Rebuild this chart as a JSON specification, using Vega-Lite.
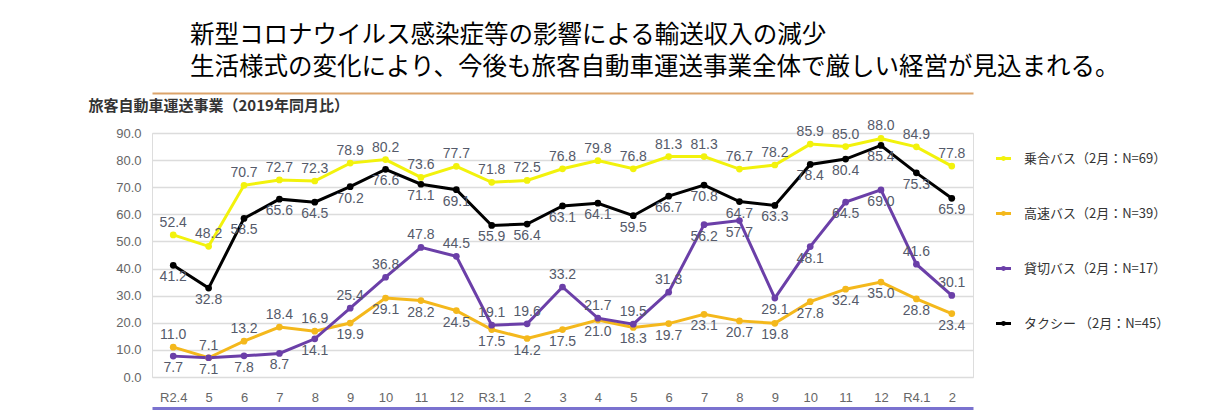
{
  "$schema": "https://vega.github.io/schema/vega-lite/v6.json",
  "width": 821,
  "height": 244,
  "autosize": {"type": "none"},
  "padding": {"left": 152, "top": 133, "right": 257, "bottom": 34},
  "background": "white",
  "title": {
    "text": "新型コロナウイルス感染症等の影響による輸送収入の減少",
    "subtitle": "生活様式の変化により、今後も旅客自動車運送事業全体で厳しい経営が見込まれる。",
    "anchor": "start",
    "frame": "group",
    "orient": "top",
    "dx": 38,
    "dy": 1,
    "offset": 14,
    "font": "Noto Sans CJK JP",
    "fontSize": 24.5,
    "fontWeight": "normal",
    "color": "#000000",
    "subtitleFont": "Noto Sans CJK JP",
    "subtitleFontSize": 24.5,
    "subtitleColor": "#000000",
    "subtitlePadding": 7
  },
  "data": {
    "values": [
      {"month": "2020-04", "series": "乗合バス", "value": 52.4},
      {"month": "2020-05", "series": "乗合バス", "value": 48.2},
      {"month": "2020-06", "series": "乗合バス", "value": 70.7},
      {"month": "2020-07", "series": "乗合バス", "value": 72.7},
      {"month": "2020-08", "series": "乗合バス", "value": 72.3},
      {"month": "2020-09", "series": "乗合バス", "value": 78.9},
      {"month": "2020-10", "series": "乗合バス", "value": 80.2},
      {"month": "2020-11", "series": "乗合バス", "value": 73.6},
      {"month": "2020-12", "series": "乗合バス", "value": 77.7},
      {"month": "2021-01", "series": "乗合バス", "value": 71.8},
      {"month": "2021-02", "series": "乗合バス", "value": 72.5},
      {"month": "2021-03", "series": "乗合バス", "value": 76.8},
      {"month": "2021-04", "series": "乗合バス", "value": 79.8},
      {"month": "2021-05", "series": "乗合バス", "value": 76.8},
      {"month": "2021-06", "series": "乗合バス", "value": 81.3},
      {"month": "2021-07", "series": "乗合バス", "value": 81.3},
      {"month": "2021-08", "series": "乗合バス", "value": 76.7},
      {"month": "2021-09", "series": "乗合バス", "value": 78.2},
      {"month": "2021-10", "series": "乗合バス", "value": 85.9},
      {"month": "2021-11", "series": "乗合バス", "value": 85.0},
      {"month": "2021-12", "series": "乗合バス", "value": 88.0},
      {"month": "2022-01", "series": "乗合バス", "value": 84.9},
      {"month": "2022-02", "series": "乗合バス", "value": 77.8},
      {"month": "2020-04", "series": "高速バス", "value": 11.0},
      {"month": "2020-05", "series": "高速バス", "value": 7.1},
      {"month": "2020-06", "series": "高速バス", "value": 13.2},
      {"month": "2020-07", "series": "高速バス", "value": 18.4},
      {"month": "2020-08", "series": "高速バス", "value": 16.9},
      {"month": "2020-09", "series": "高速バス", "value": 19.9},
      {"month": "2020-10", "series": "高速バス", "value": 29.1},
      {"month": "2020-11", "series": "高速バス", "value": 28.2},
      {"month": "2020-12", "series": "高速バス", "value": 24.5},
      {"month": "2021-01", "series": "高速バス", "value": 17.5},
      {"month": "2021-02", "series": "高速バス", "value": 14.2},
      {"month": "2021-03", "series": "高速バス", "value": 17.5},
      {"month": "2021-04", "series": "高速バス", "value": 21.0},
      {"month": "2021-05", "series": "高速バス", "value": 18.3},
      {"month": "2021-06", "series": "高速バス", "value": 19.7},
      {"month": "2021-07", "series": "高速バス", "value": 23.1},
      {"month": "2021-08", "series": "高速バス", "value": 20.7},
      {"month": "2021-09", "series": "高速バス", "value": 19.8},
      {"month": "2021-10", "series": "高速バス", "value": 27.8},
      {"month": "2021-11", "series": "高速バス", "value": 32.4},
      {"month": "2021-12", "series": "高速バス", "value": 35.0},
      {"month": "2022-01", "series": "高速バス", "value": 28.8},
      {"month": "2022-02", "series": "高速バス", "value": 23.4},
      {"month": "2020-04", "series": "貸切バス", "value": 7.7},
      {"month": "2020-05", "series": "貸切バス", "value": 7.1},
      {"month": "2020-06", "series": "貸切バス", "value": 7.8},
      {"month": "2020-07", "series": "貸切バス", "value": 8.7},
      {"month": "2020-08", "series": "貸切バス", "value": 14.1},
      {"month": "2020-09", "series": "貸切バス", "value": 25.4},
      {"month": "2020-10", "series": "貸切バス", "value": 36.8},
      {"month": "2020-11", "series": "貸切バス", "value": 47.8},
      {"month": "2020-12", "series": "貸切バス", "value": 44.5},
      {"month": "2021-01", "series": "貸切バス", "value": 19.1},
      {"month": "2021-02", "series": "貸切バス", "value": 19.6},
      {"month": "2021-03", "series": "貸切バス", "value": 33.2},
      {"month": "2021-04", "series": "貸切バス", "value": 21.7},
      {"month": "2021-05", "series": "貸切バス", "value": 19.5},
      {"month": "2021-06", "series": "貸切バス", "value": 31.3},
      {"month": "2021-07", "series": "貸切バス", "value": 56.2},
      {"month": "2021-08", "series": "貸切バス", "value": 57.7},
      {"month": "2021-09", "series": "貸切バス", "value": 29.1},
      {"month": "2021-10", "series": "貸切バス", "value": 48.1},
      {"month": "2021-11", "series": "貸切バス", "value": 64.5},
      {"month": "2021-12", "series": "貸切バス", "value": 69.0},
      {"month": "2022-01", "series": "貸切バス", "value": 41.6},
      {"month": "2022-02", "series": "貸切バス", "value": 30.1},
      {"month": "2020-04", "series": "タクシー", "value": 41.2},
      {"month": "2020-05", "series": "タクシー", "value": 32.8},
      {"month": "2020-06", "series": "タクシー", "value": 58.5},
      {"month": "2020-07", "series": "タクシー", "value": 65.6},
      {"month": "2020-08", "series": "タクシー", "value": 64.5},
      {"month": "2020-09", "series": "タクシー", "value": 70.2},
      {"month": "2020-10", "series": "タクシー", "value": 76.6},
      {"month": "2020-11", "series": "タクシー", "value": 71.1},
      {"month": "2020-12", "series": "タクシー", "value": 69.1},
      {"month": "2021-01", "series": "タクシー", "value": 55.9},
      {"month": "2021-02", "series": "タクシー", "value": 56.4},
      {"month": "2021-03", "series": "タクシー", "value": 63.1},
      {"month": "2021-04", "series": "タクシー", "value": 64.1},
      {"month": "2021-05", "series": "タクシー", "value": 59.5},
      {"month": "2021-06", "series": "タクシー", "value": 66.7},
      {"month": "2021-07", "series": "タクシー", "value": 70.8},
      {"month": "2021-08", "series": "タクシー", "value": 64.7},
      {"month": "2021-09", "series": "タクシー", "value": 63.3},
      {"month": "2021-10", "series": "タクシー", "value": 78.4},
      {"month": "2021-11", "series": "タクシー", "value": 80.4},
      {"month": "2021-12", "series": "タクシー", "value": 85.4},
      {"month": "2022-01", "series": "タクシー", "value": 75.3},
      {"month": "2022-02", "series": "タクシー", "value": 65.9}
    ]
  },
  "resolve": {"axis": {"x": "independent"}},
  "encoding": {
    "y": {
      "field": "value", "type": "quantitative",
      "scale": {"domain": [0, 90], "nice": false},
      "axis": {
        "values": [0, 10, 20, 30, 40, 50, 60, 70, 80, 90],
        "tickCount": 12,
        "labelOverlap": false,
        "format": ".1f", "domain": false, "ticks": false, "labelPadding": 11,
        "labelFont": "Liberation Sans", "labelFontSize": 13, "labelColor": "#666666",
        "gridColor": "#dcdcdc", "gridWidth": 1.5,
        "title": "旅客自動車運送事業（2019年同月比）",
        "titleAngle": 0, "titleAlign": "left", "titleBaseline": "middle",
        "titleX": -64, "titleY": -28,
        "titleFont": "Noto Sans CJK JP", "titleFontSize": 15, "titleFontWeight": "bold", "titleColor": "#333333"
      }
    },
    "color": {
      "field": "series", "type": "nominal",
      "scale": {
        "domain": ["乗合バス", "高速バス", "貸切バス", "タクシー"],
        "range": ["#f2f20c", "#f4b81c", "#6b3fa8", "#000000"]
      },
      "legend": {
        "orient": "none", "legendX": 835, "legendY": 9, "padding": 0,
        "title": null,
        "symbolType": "M-0.5,0L0.5,0M-0.06,0A0.06,0.06 0 1,0 0.06,0A0.06,0.06 0 1,0 -0.06,0",
        "symbolSize": 900, "symbolStrokeWidth": 3, "symbolFillColor": "transparent",
        "rowPadding": 31, "labelOffset": 4,
        "labelFont": "Noto Sans CJK JP", "labelFontSize": 13, "labelColor": "#333333",
        "labelExpr": "datum.label == '乗合バス' ? '乗合バス（2月：N=69）' : datum.label == '高速バス' ? '高速バス（2月：N=39）' : datum.label == '貸切バス' ? '貸切バス（2月：N=17）' : 'タクシー （2月：N=45）'"
      }
    }
  },
  "layer": [
    {
      "mark": {"type": "line", "strokeWidth": 3},
      "encoding": {
        "x": {
          "field": "month", "type": "ordinal",
          "scale": {"type": "point", "padding": 0.6},
          "axis": {
            "orient": "bottom", "title": null, "offset": 31,
            "domainColor": "#7a72cf", "domainWidth": 3,
            "ticks": false, "tickSize": 0, "labelPadding": -11, "labelBaseline": "middle",
            "labelAngle": 0, "labelFont": "Liberation Sans", "labelFontSize": 13, "labelColor": "#666666",
            "grid": false,
            "labelExpr": "datum.value == '2020-04' ? 'R2.4' : datum.value == '2021-01' ? 'R3.1' : datum.value == '2022-01' ? 'R4.1' : '' + toNumber(substring(datum.value, 5, 7))"
          }
        }
      }
    },
    {
      "mark": {"type": "point", "filled": true, "size": 45, "opacity": 1},
      "encoding": {
        "x": {
          "field": "month", "type": "ordinal",
          "axis": {
            "orient": "top", "title": null, "offset": 40, "labels": false, "ticks": false,
            "grid": false, "domainColor": "#dba36a", "domainWidth": 2
          }
        }
      }
    },
    {
      "transform": [
        {"filter": "datum.series == '乗合バス' || (datum.series == '高速バス' && datum.month < '2020-09') || (datum.series == '貸切バス' && ((datum.month >= '2020-09' && datum.month < '2021-07') || datum.month >= '2022-01'))"}
      ],
      "mark": {"type": "text", "baseline": "bottom", "dy": -5, "font": "Liberation Sans", "fontSize": 14},
      "encoding": {
        "x": {"field": "month", "type": "ordinal", "axis": null},
        "color": {"value": "#555a6a"},
        "text": {"field": "value", "type": "quantitative", "format": ".1f"}
      }
    },
    {
      "transform": [
        {"filter": "!(datum.series == '乗合バス' || (datum.series == '高速バス' && datum.month < '2020-09') || (datum.series == '貸切バス' && ((datum.month >= '2020-09' && datum.month < '2021-07') || datum.month >= '2022-01')))"}
      ],
      "mark": {"type": "text", "baseline": "top", "dy": 5, "font": "Liberation Sans", "fontSize": 14},
      "encoding": {
        "x": {"field": "month", "type": "ordinal", "axis": null},
        "color": {"value": "#555a6a"},
        "text": {"field": "value", "type": "quantitative", "format": ".1f"}
      }
    }
  ]
}
